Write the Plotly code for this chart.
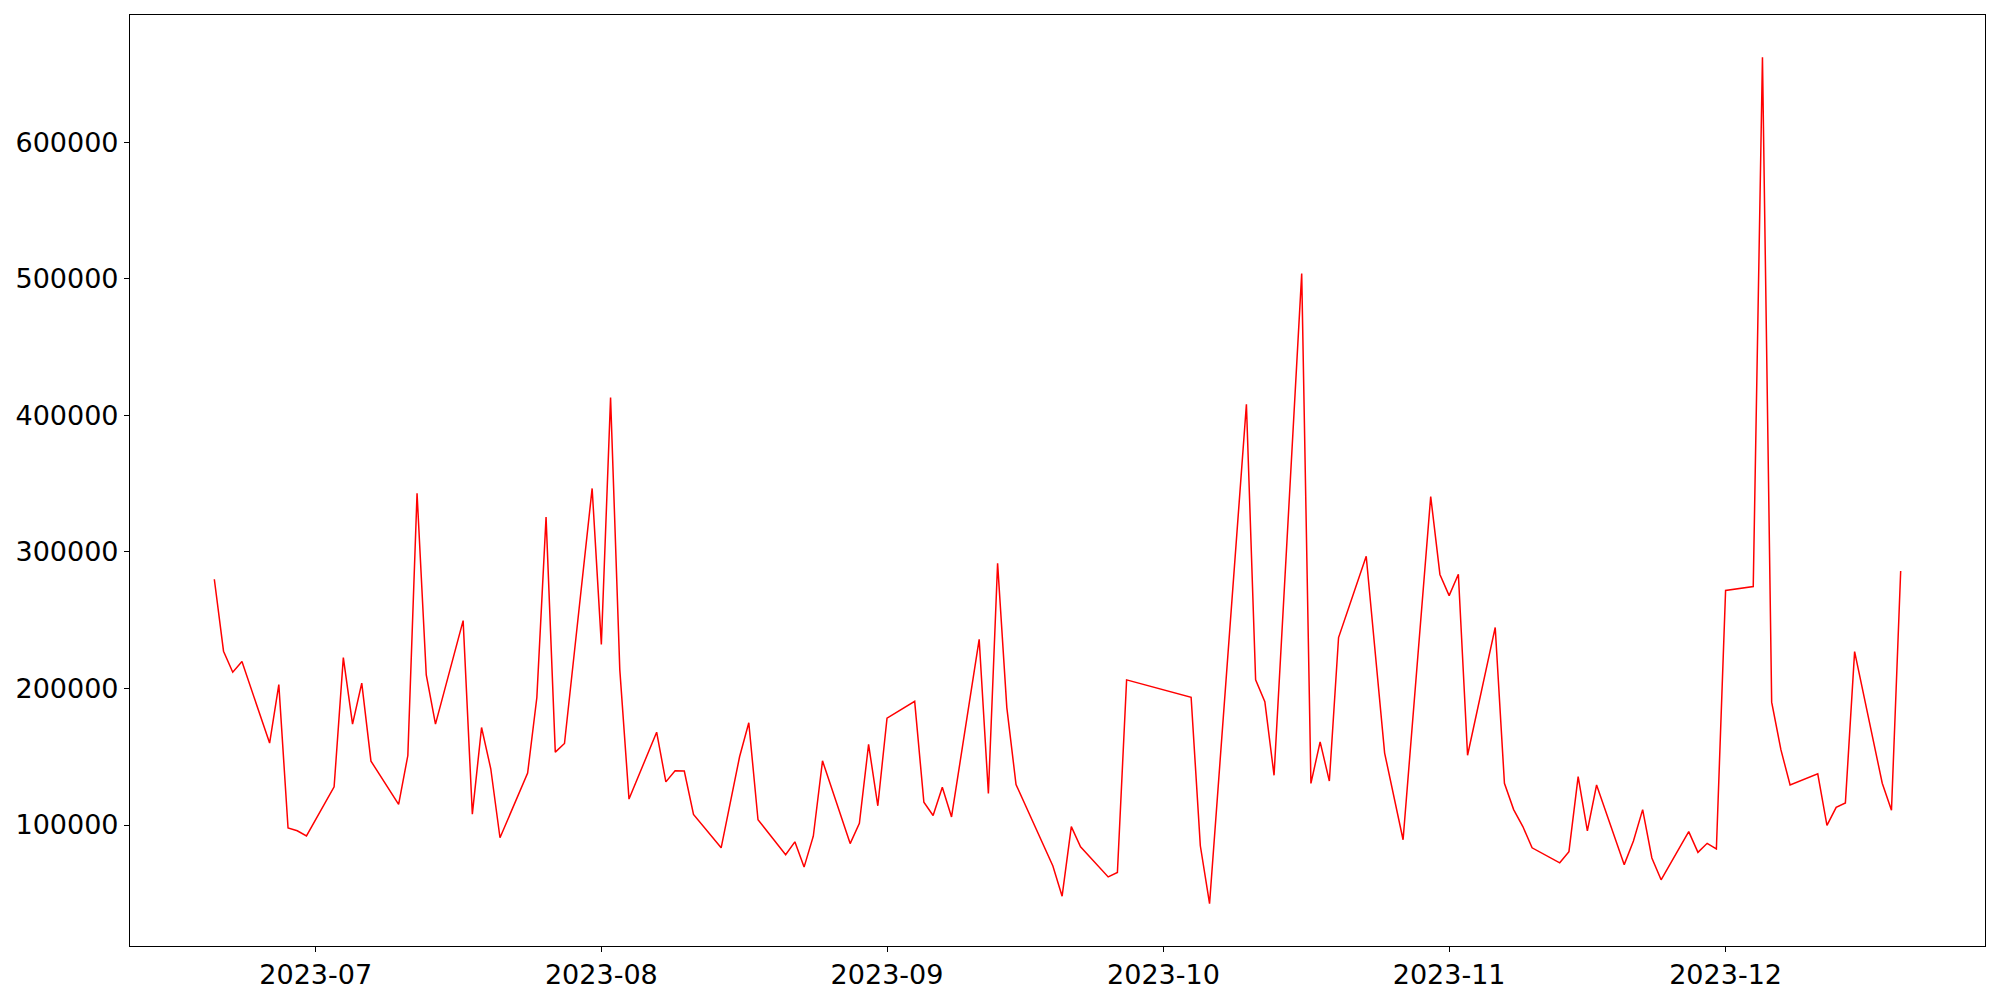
import datetime as dt
import plotly.graph_objects as go

# ---- data ----
dates = [
    "2023-06-20", "2023-06-21", "2023-06-22", "2023-06-23", "2023-06-26", "2023-06-27",
    "2023-06-28", "2023-06-29", "2023-06-30",
    "2023-07-03", "2023-07-04", "2023-07-05", "2023-07-06", "2023-07-07",
    "2023-07-10", "2023-07-11", "2023-07-12", "2023-07-13", "2023-07-14",
    "2023-07-17", "2023-07-18", "2023-07-19", "2023-07-20", "2023-07-21",
    "2023-07-24", "2023-07-25", "2023-07-26", "2023-07-27", "2023-07-28", "2023-07-31",
    "2023-08-01", "2023-08-02", "2023-08-03", "2023-08-04",
    "2023-08-07", "2023-08-08", "2023-08-09", "2023-08-10", "2023-08-11",
    "2023-08-14", "2023-08-16", "2023-08-17", "2023-08-18",
    "2023-08-21", "2023-08-22", "2023-08-23", "2023-08-24", "2023-08-25",
    "2023-08-28", "2023-08-29", "2023-08-30", "2023-08-31", "2023-09-01",
    "2023-09-04", "2023-09-05", "2023-09-06", "2023-09-07", "2023-09-08",
    "2023-09-11", "2023-09-12", "2023-09-13", "2023-09-14", "2023-09-15",
    "2023-09-18", "2023-09-19", "2023-09-20", "2023-09-21", "2023-09-22",
    "2023-09-25", "2023-09-26", "2023-09-27",
    "2023-10-04", "2023-10-05", "2023-10-06",
    "2023-10-10", "2023-10-11", "2023-10-12", "2023-10-13",
    "2023-10-16", "2023-10-17", "2023-10-18", "2023-10-19", "2023-10-20",
    "2023-10-23", "2023-10-25", "2023-10-27",
    "2023-10-30", "2023-10-31", "2023-11-01", "2023-11-02", "2023-11-03",
    "2023-11-06", "2023-11-07", "2023-11-08", "2023-11-09", "2023-11-10",
    "2023-11-13", "2023-11-14", "2023-11-15", "2023-11-16", "2023-11-17",
    "2023-11-20", "2023-11-21", "2023-11-22", "2023-11-23", "2023-11-24",
    "2023-11-27", "2023-11-28", "2023-11-29", "2023-11-30", "2023-12-01",
    "2023-12-04", "2023-12-05", "2023-12-06", "2023-12-07", "2023-12-08",
    "2023-12-11", "2023-12-12", "2023-12-13", "2023-12-14", "2023-12-15",
    "2023-12-18", "2023-12-19", "2023-12-20",
]

values = [
    280000, 227300, 211900, 219700, 160000, 202900,
    97800, 95800, 92000,
    128000, 222600, 173900, 203900, 146800,
    115100, 150900, 342900, 209900, 173900,
    249700, 108000, 171400, 141200, 90700,
    138000, 193400, 325500, 153400, 159700, 346500,
    232300, 413000, 214000, 119000,
    168000, 131600, 139800, 139500, 107800,
    83300, 150000, 174900, 103900,
    78200, 87700, 69200, 91800, 147000,
    86400, 101300, 159000, 114100, 178300,
    190600, 116700, 107000, 127700, 105900,
    236000, 123100, 291700, 186000, 129700,
    84400, 70000, 47900, 98800, 84100,
    62000, 65200, 206300,
    193600, 84800, 42400,
    408100, 206300, 190300, 136400,
    503800, 130500, 160900, 132200, 237300,
    296800, 152700, 89200,
    340600, 283500, 268000, 283700, 151100,
    244700, 130600, 111300, 98900, 83300,
    72300, 80500, 135500, 95700, 129300,
    71000, 88300, 111300, 75900, 59900,
    95200, 80000, 86600, 82500, 271800,
    274600, 662200, 190000, 155200, 129300,
    137500, 99800, 112900, 116200, 227000,
    130600, 110800, 286000,
]

x_tick_vals = ["2023-07-01", "2023-08-01", "2023-09-01", "2023-10-01", "2023-11-01", "2023-12-01"]
x_tick_text = ["2023-07", "2023-08", "2023-09", "2023-10", "2023-11", "2023-12"]
y_tick_vals = [100000, 200000, 300000, 400000, 500000, 600000]
y_tick_text = ["100000", "200000", "300000", "400000", "500000", "600000"]

# ---- axis ranges with 5% padding (matplotlib-like autoscale) ----
d0 = dt.datetime.fromisoformat(dates[0])
d1 = dt.datetime.fromisoformat(dates[-1])
pad_t = (d1 - d0) * 0.05
x_range = [(d0 - pad_t).isoformat(), (d1 + pad_t).isoformat()]
vmin, vmax = min(values), max(values)
pad_v = (vmax - vmin) * 0.05
y_range = [vmin - pad_v, vmax + pad_v]

fig = go.Figure()
fig.add_trace(go.Scatter(
    x=dates, y=values, mode="lines",
    line=dict(color="red", width=1.5),
    showlegend=False,
))

font = dict(family="DejaVu Sans", size=27, color="black")

fig.update_layout(
    width=2000, height=1000,
    margin=dict(l=122, r=23, t=7, b=62, autoexpand=False),
    paper_bgcolor="white", plot_bgcolor="white",
    font=font,
    showlegend=False,
)
fig.update_xaxes(
    type="date", range=x_range,
    tickmode="array", tickvals=x_tick_vals, ticktext=x_tick_text,
    showgrid=False, zeroline=False,
    showline=True, linecolor="black", linewidth=1.1, mirror=True,
    ticks="outside", ticklen=5, tickwidth=1.1, tickcolor="black",
    tickfont=font,
)
fig.update_yaxes(
    range=y_range,
    tickmode="array", tickvals=y_tick_vals, ticktext=y_tick_text,
    showgrid=False, zeroline=False,
    showline=True, linecolor="black", linewidth=1.1, mirror=True,
    ticks="outside", ticklen=5, tickwidth=1.1, tickcolor="black",
    tickfont=font,
)

fig.write_html("out.html")
